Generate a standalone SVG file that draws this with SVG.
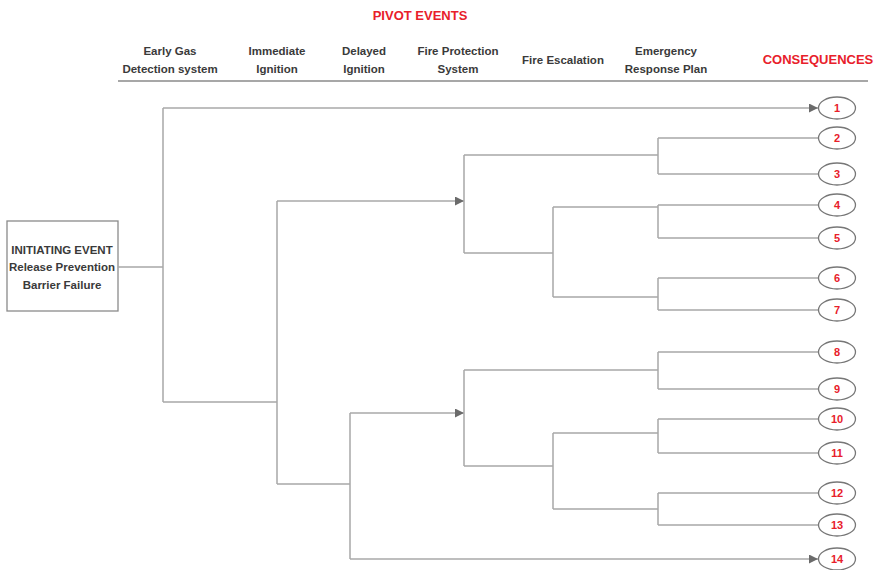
<svg xmlns="http://www.w3.org/2000/svg" width="875" height="570" viewBox="0 0 875 570">
<style>
text{font-family:"Liberation Sans",Arial,sans-serif;font-weight:bold;text-anchor:middle}
.hd{font-size:11.5px;fill:#3a3a3a}
.red{fill:#e8202a}
.c{fill:none;stroke:#a8a8a8;stroke-width:1.5}
.el{fill:#fff;stroke:#777;stroke-width:1.3}
.n{font-size:11px;fill:#e8202a}
</style>
<defs>
<marker id="ar" viewBox="0 0 10 10" refX="10" refY="5" markerWidth="9" markerHeight="9" markerUnits="userSpaceOnUse" orient="auto">
<path d="M0,0 L10,5 L0,10 z" fill="#6b6b6b"/>
</marker>
</defs>
<rect width="875" height="570" fill="#fff"/>
<g id="header">
<text class="red" x="420" y="20" font-size="13">PIVOT EVENTS</text>
<text class="hd" x="170" y="55">Early Gas</text>
<text class="hd" x="170" y="73">Detection system</text>
<text class="hd" x="277" y="55">Immediate</text>
<text class="hd" x="277" y="73">Ignition</text>
<text class="hd" x="364" y="55">Delayed</text>
<text class="hd" x="364" y="73">Ignition</text>
<text class="hd" x="458" y="55">Fire Protection</text>
<text class="hd" x="458" y="73">System</text>
<text class="hd" x="563" y="64">Fire Escalation</text>
<text class="hd" x="666" y="55">Emergency</text>
<text class="hd" x="666" y="73">Response Plan</text>
<text class="red" x="818" y="64" font-size="13">CONSEQUENCES</text>
<line x1="118" y1="81" x2="868" y2="81" stroke="#8a8a8a" stroke-width="1.5"/>
</g>
<g id="initiating">
<rect x="7" y="221" width="111" height="90" fill="#fff" stroke="#8a8a8a" stroke-width="1.3"/>
<text class="hd" x="62" y="254" font-size="10.5">INITIATING EVENT</text>
<text class="hd" x="62" y="271" font-size="10.5">Release Prevention</text>
<text class="hd" x="62" y="289" font-size="10.5">Barrier Failure</text>
</g>
<g id="connectors">
<path class="c" d="M118,267 H163 M163,108 V402"/>
<path class="c" d="M163,108 H818" marker-end="url(#ar)"/>
<path class="c" d="M163,402 H277 M277,201 V484"/>
<path class="c" d="M277,201 H464" marker-end="url(#ar)"/>
<path class="c" d="M464,155 V253 M464,155 H658 M658,138 V174 M658,138 H818 M658,174 H818"/>
<path class="c" d="M464,253 H553 M553,207 V297 M553,207 H658 M658,205 V238 M658,205 H818 M658,238 H818"/>
<path class="c" d="M553,297 H658 M658,278 V310 M658,278 H818 M658,310 H818"/>
<path class="c" d="M277,484 H350 M350,413 V559"/>
<path class="c" d="M350,413 H464" marker-end="url(#ar)"/>
<path class="c" d="M464,370 V466 M464,370 H658 M658,352 V389 M658,352 H818 M658,389 H818"/>
<path class="c" d="M464,466 H553 M553,433 V509 M553,433 H658 M658,419 V453 M658,419 H818 M658,453 H818"/>
<path class="c" d="M553,509 H658 M658,493 V525 M658,493 H818 M658,525 H818"/>
<path class="c" d="M350,559 H818" marker-end="url(#ar)"/>
</g>
<g id="c1"><ellipse class="el" cx="837" cy="108" rx="18.5" ry="11"/><text class="n" x="837" y="112">1</text></g>
<g id="c2"><ellipse class="el" cx="837" cy="138" rx="18.5" ry="11"/><text class="n" x="837" y="142">2</text></g>
<g id="c3"><ellipse class="el" cx="837" cy="174" rx="18.5" ry="11"/><text class="n" x="837" y="178">3</text></g>
<g id="c4"><ellipse class="el" cx="837" cy="205" rx="18.5" ry="11"/><text class="n" x="837" y="209">4</text></g>
<g id="c5"><ellipse class="el" cx="837" cy="238" rx="18.5" ry="11"/><text class="n" x="837" y="242">5</text></g>
<g id="c6"><ellipse class="el" cx="837" cy="278" rx="18.5" ry="11"/><text class="n" x="837" y="282">6</text></g>
<g id="c7"><ellipse class="el" cx="837" cy="310" rx="18.5" ry="11"/><text class="n" x="837" y="314">7</text></g>
<g id="c8"><ellipse class="el" cx="837" cy="352" rx="18.5" ry="11"/><text class="n" x="837" y="356">8</text></g>
<g id="c9"><ellipse class="el" cx="837" cy="389" rx="18.5" ry="11"/><text class="n" x="837" y="393">9</text></g>
<g id="c10"><ellipse class="el" cx="837" cy="419" rx="18.5" ry="11"/><text class="n" x="837" y="423">10</text></g>
<g id="c11"><ellipse class="el" cx="837" cy="453" rx="18.5" ry="11"/><text class="n" x="837" y="457">11</text></g>
<g id="c12"><ellipse class="el" cx="837" cy="493" rx="18.5" ry="11"/><text class="n" x="837" y="497">12</text></g>
<g id="c13"><ellipse class="el" cx="837" cy="525" rx="18.5" ry="11"/><text class="n" x="837" y="529">13</text></g>
<g id="c14"><ellipse class="el" cx="837" cy="559" rx="18.5" ry="11"/><text class="n" x="837" y="563">14</text></g>
</svg>
